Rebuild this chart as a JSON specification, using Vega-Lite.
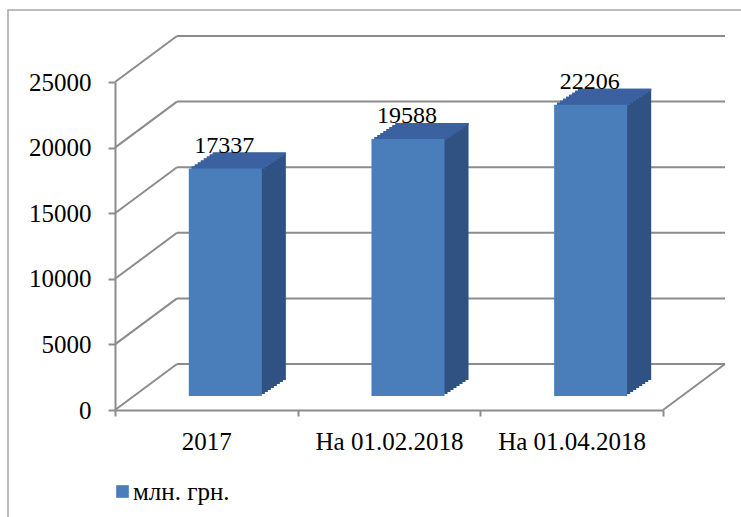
{
"$schema": "https://vega.github.io/schema/vega-lite/v6.json",
"autosize": "none",
"width": 733, "height": 507,
"padding": {"left": 8, "top": 10, "right": 0, "bottom": 0},
"background": "white",
"config": {"view": {"stroke": "#a6a6a6", "strokeWidth": 1.5, "strokeDash": [733, 1240, 508, 1]}, "font": "Liberation Serif"},
"datasets": {
 "bars": [
  {"cat": "2017", "value": 17337, "series": "млн. грн."},
  {"cat": "На 01.02.2018", "value": 19588, "series": "млн. грн."},
  {"cat": "На 01.04.2018", "value": 22206, "series": "млн. грн."}
 ],
 "grid": [{"value": 0}, {"value": 5000}, {"value": 10000}, {"value": 15000}, {"value": 20000}, {"value": 25000}],
 "floor": [{"value": 0}]
},
"encoding": {
 "x": {"field": "cat", "type": "nominal", "sort": null, "title": null,
  "scale": {"domain": ["2017", "На 01.02.2018", "На 01.04.2018"], "range": [107, 655], "paddingInner": 0, "paddingOuter": 0},
  "axis": {"orient": "bottom", "offset": -107, "tickBand": "extent", "domainColor": "#8c8c8c", "domainWidth": 2, "tickColor": "#8c8c8c", "tickWidth": 2, "tickSize": 6, "labelFont": "Liberation Serif", "labelFontSize": 25, "labelColor": "#000", "labelPadding": 13, "labelAngle": 0, "grid": false, "title": null}},
 "y": {"field": "value", "type": "quantitative", "title": null,
  "scale": {"domain": [0, 25000], "range": [400, 72], "nice": false, "zero": true},
  "axis": {"orient": "left", "offset": -107, "values": [0, 5000, 10000, 15000, 20000, 25000], "format": "d", "domainColor": "#8c8c8c", "domainWidth": 2, "tickColor": "#8c8c8c", "tickWidth": 2, "tickSize": 7, "labelFont": "Liberation Serif", "labelFontSize": 25, "labelColor": "#000", "labelPadding": 17, "grid": false, "title": null}}
},
"layer": [
 {"data": {"name": "grid"}, "mark": {"type": "rule", "color": "#8c8c8c", "strokeWidth": 2, "xOffset": 62, "x2Offset": 62, "yOffset": -46},
  "encoding": {"x": {"datum": "2017", "type": "nominal", "bandPosition": 0}, "x2": {"datum": "На 01.04.2018", "bandPosition": 1}}},
 {"data": {"name": "grid"}, "mark": {"type": "rule", "color": "#8c8c8c", "strokeWidth": 2, "x2Offset": 62, "y2Offset": -46},
  "encoding": {"x": {"datum": "2017", "type": "nominal", "bandPosition": 0}, "x2": {"datum": "2017", "bandPosition": 0}, "y2": {"field": "value"}}},
 {"data": {"name": "floor"}, "mark": {"type": "rule", "color": "#8c8c8c", "strokeWidth": 2, "x2Offset": 62, "y2Offset": -46},
  "encoding": {"x": {"datum": "На 01.04.2018", "type": "nominal", "bandPosition": 1}, "x2": {"datum": "На 01.04.2018", "bandPosition": 1}, "y2": {"field": "value"}}},
 {"data": {"name": "bars"}, "mark": {"type": "bar", "color": "#2F5283", "width": {"band": 0.4}, "xOffset": 22, "x2Offset": 22, "yOffset": -16, "y2Offset": -16}, "encoding": {"y2": {"datum": 0}}},
 {"data": {"name": "bars"}, "mark": {"type": "bar", "color": "#2F5283", "width": {"band": 0.4}, "xOffset": 25, "x2Offset": 25, "yOffset": -18, "y2Offset": -18}, "encoding": {"y2": {"datum": 0}}},
 {"data": {"name": "bars"}, "mark": {"type": "bar", "color": "#2F5283", "width": {"band": 0.4}, "xOffset": 28, "x2Offset": 28, "yOffset": -20, "y2Offset": -20}, "encoding": {"y2": {"datum": 0}}},
 {"data": {"name": "bars"}, "mark": {"type": "bar", "color": "#2F5283", "width": {"band": 0.4}, "xOffset": 31, "x2Offset": 31, "yOffset": -22, "y2Offset": -22}, "encoding": {"y2": {"datum": 0}}},
 {"data": {"name": "bars"}, "mark": {"type": "bar", "color": "#2F5283", "width": {"band": 0.4}, "xOffset": 34, "x2Offset": 34, "yOffset": -24, "y2Offset": -24}, "encoding": {"y2": {"datum": 0}}},
 {"data": {"name": "bars"}, "mark": {"type": "bar", "color": "#2F5283", "width": {"band": 0.4}, "xOffset": 37, "x2Offset": 37, "yOffset": -26, "y2Offset": -26}, "encoding": {"y2": {"datum": 0}}},
 {"data": {"name": "bars"}, "mark": {"type": "bar", "color": "#2F5283", "width": {"band": 0.4}, "xOffset": 40, "x2Offset": 40, "yOffset": -28, "y2Offset": -28}, "encoding": {"y2": {"datum": 0}}},
 {"data": {"name": "bars"}, "mark": {"type": "bar", "color": "#2F5283", "width": {"band": 0.4}, "xOffset": 43, "x2Offset": 43, "yOffset": -30, "y2Offset": -30}, "encoding": {"y2": {"datum": 0}}},
 {"data": {"name": "bars"}, "mark": {"type": "bar", "color": "#3B61A0", "width": {"band": 0.4}, "xOffset": 22, "x2Offset": 22, "yOffset": -16, "y2Offset": -13.5}, "encoding": {"y2": {"field": "value"}}},
 {"data": {"name": "bars"}, "mark": {"type": "bar", "color": "#3B61A0", "width": {"band": 0.4}, "xOffset": 25, "x2Offset": 25, "yOffset": -18, "y2Offset": -15.5}, "encoding": {"y2": {"field": "value"}}},
 {"data": {"name": "bars"}, "mark": {"type": "bar", "color": "#3B61A0", "width": {"band": 0.4}, "xOffset": 28, "x2Offset": 28, "yOffset": -20, "y2Offset": -17.5}, "encoding": {"y2": {"field": "value"}}},
 {"data": {"name": "bars"}, "mark": {"type": "bar", "color": "#3B61A0", "width": {"band": 0.4}, "xOffset": 31, "x2Offset": 31, "yOffset": -22, "y2Offset": -19.5}, "encoding": {"y2": {"field": "value"}}},
 {"data": {"name": "bars"}, "mark": {"type": "bar", "color": "#3B61A0", "width": {"band": 0.4}, "xOffset": 34, "x2Offset": 34, "yOffset": -24, "y2Offset": -21.5}, "encoding": {"y2": {"field": "value"}}},
 {"data": {"name": "bars"}, "mark": {"type": "bar", "color": "#3B61A0", "width": {"band": 0.4}, "xOffset": 37, "x2Offset": 37, "yOffset": -26, "y2Offset": -23.5}, "encoding": {"y2": {"field": "value"}}},
 {"data": {"name": "bars"}, "mark": {"type": "bar", "color": "#3B61A0", "width": {"band": 0.4}, "xOffset": 40, "x2Offset": 40, "yOffset": -28, "y2Offset": -25.5}, "encoding": {"y2": {"field": "value"}}},
 {"data": {"name": "bars"}, "mark": {"type": "bar", "color": "#3B61A0", "width": {"band": 0.4}, "xOffset": 43, "x2Offset": 43, "yOffset": -30, "y2Offset": -27.5}, "encoding": {"y2": {"field": "value"}}},
 {"data": {"name": "bars"}, "mark": {"type": "bar", "width": {"band": 0.4}, "xOffset": 19, "x2Offset": 19, "yOffset": -14, "y2Offset": -14},
  "encoding": {"y2": {"datum": 0},
   "color": {"field": "series", "type": "nominal", "scale": {"range": ["#4A7EBB"]},
    "legend": {"title": null, "orient": "none", "legendX": 102, "legendY": 469, "symbolType": "square", "symbolSize": 160, "symbolStrokeWidth": 0, "labelFont": "Liberation Serif", "labelFontSize": 25, "labelColor": "#000", "labelOffset": -2, "padding": 0}}}},
 {"data": {"name": "bars"}, "mark": {"type": "text", "font": "Liberation Serif", "fontSize": 24, "color": "#000", "baseline": "alphabetic", "align": "center", "xOffset": 18, "yOffset": -30},
  "encoding": {"text": {"field": "value", "type": "quantitative", "format": "d"}}}
]
}
